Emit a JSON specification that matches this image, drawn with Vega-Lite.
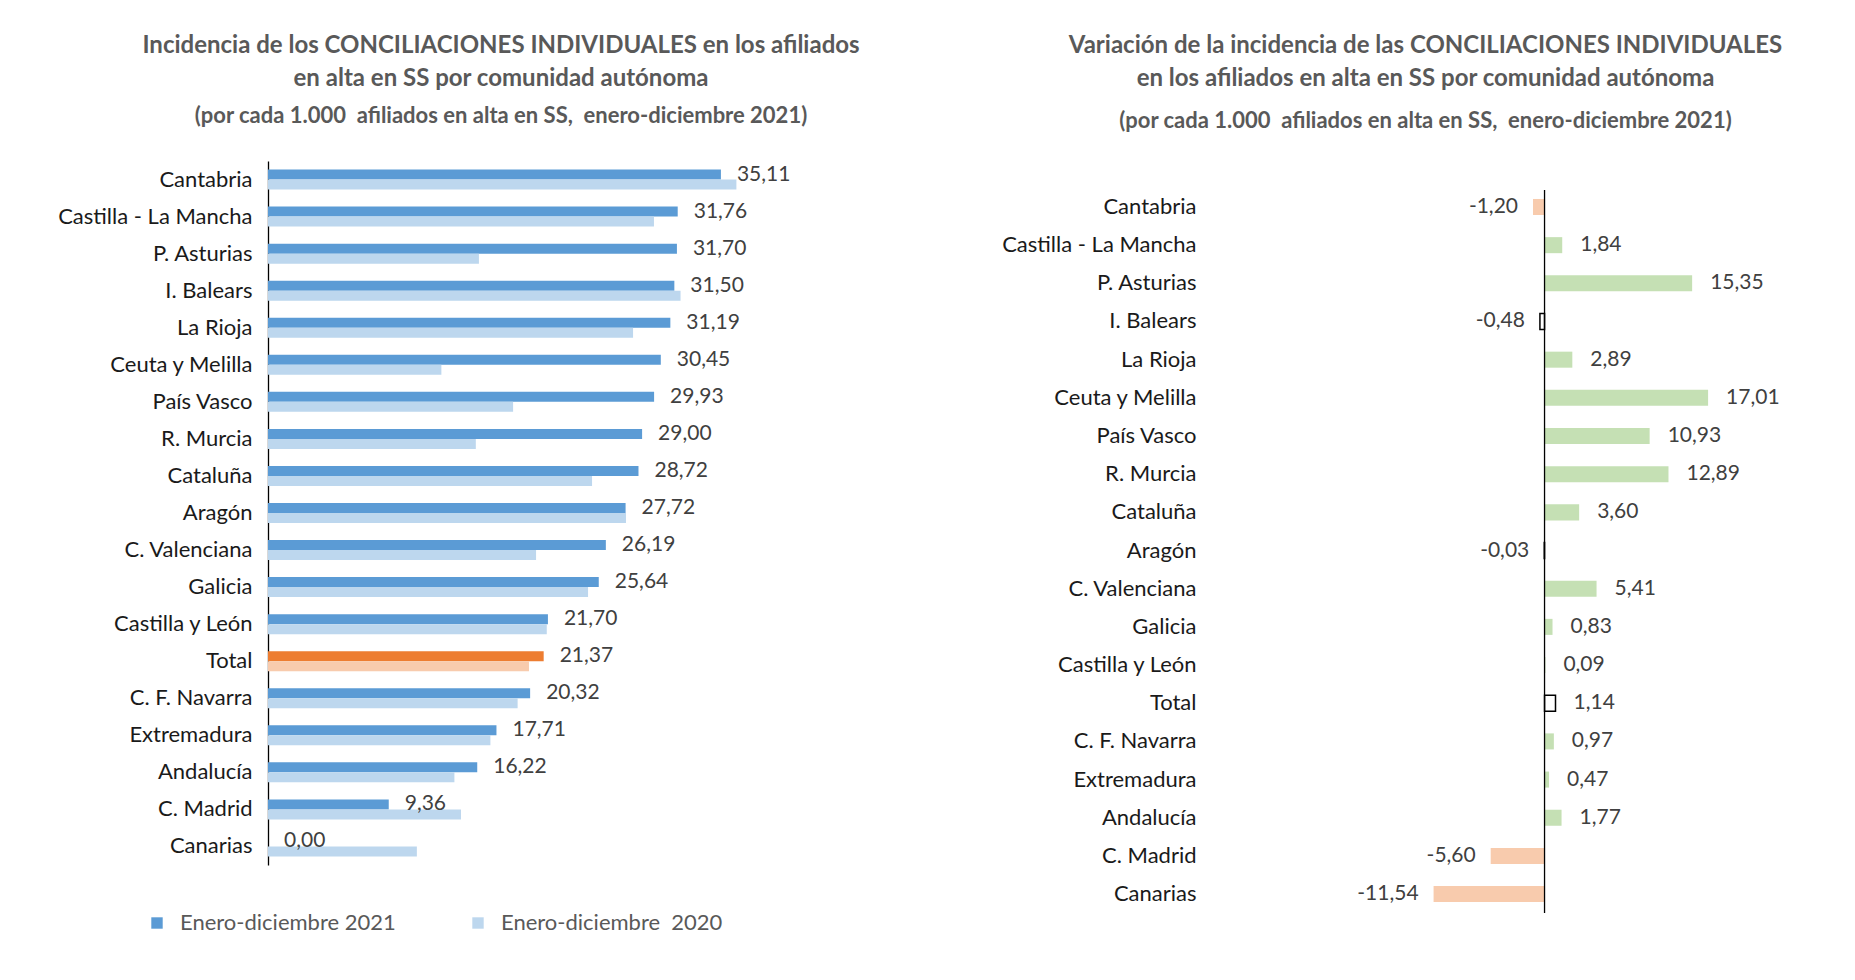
{
  "$schema": "https://vega.github.io/schema/vega-lite/v6.json",
  "background": "white",
  "padding": {"left": 57, "top": 34, "right": 10, "bottom": 10},
  "spacing": 141,
  "config": {
    "font": "Lato",
    "view": {"stroke": null},
    "locale": {"number": {"decimal": ",", "thousands": ".", "grouping": [3], "currency": ["", " €"], "minus": "-"}},
    "title": {"font": "Lato", "fontSize": 24, "fontWeight": "bold", "color": "#595959", "lineHeight": 33, "subtitleFont": "Lato", "subtitleFontSize": 22, "subtitleFontWeight": "bold", "subtitleColor": "#595959", "anchor": "middle"},
    "axis": {"labelFont": "Lato", "labelFontSize": 22, "labelColor": "#1a1a1a", "labelLimit": 0, "ticks": false, "tickSize": 0, "title": null, "grid": false}
  },
  "datasets": {
    "izq": [
      {"region": "Cantabria", "periodo": "2021", "serie": "Enero-diciembre 2021", "valor": 35.11},
      {"region": "Cantabria", "periodo": "2020", "serie": "Enero-diciembre\u00a0 2020", "valor": 36.31},
      {"region": "Castilla - La Mancha", "periodo": "2021", "serie": "Enero-diciembre 2021", "valor": 31.76},
      {"region": "Castilla - La Mancha", "periodo": "2020", "serie": "Enero-diciembre\u00a0 2020", "valor": 29.92},
      {"region": "P. Asturias", "periodo": "2021", "serie": "Enero-diciembre 2021", "valor": 31.70},
      {"region": "P. Asturias", "periodo": "2020", "serie": "Enero-diciembre\u00a0 2020", "valor": 16.35},
      {"region": "I. Balears", "periodo": "2021", "serie": "Enero-diciembre 2021", "valor": 31.50},
      {"region": "I. Balears", "periodo": "2020", "serie": "Enero-diciembre\u00a0 2020", "valor": 31.98},
      {"region": "La Rioja", "periodo": "2021", "serie": "Enero-diciembre 2021", "valor": 31.19},
      {"region": "La Rioja", "periodo": "2020", "serie": "Enero-diciembre\u00a0 2020", "valor": 28.30},
      {"region": "Ceuta y Melilla", "periodo": "2021", "serie": "Enero-diciembre 2021", "valor": 30.45},
      {"region": "Ceuta y Melilla", "periodo": "2020", "serie": "Enero-diciembre\u00a0 2020", "valor": 13.44},
      {"region": "País Vasco", "periodo": "2021", "serie": "Enero-diciembre 2021", "valor": 29.93},
      {"region": "País Vasco", "periodo": "2020", "serie": "Enero-diciembre\u00a0 2020", "valor": 19.00},
      {"region": "R. Murcia", "periodo": "2021", "serie": "Enero-diciembre 2021", "valor": 29.00},
      {"region": "R. Murcia", "periodo": "2020", "serie": "Enero-diciembre\u00a0 2020", "valor": 16.11},
      {"region": "Cataluña", "periodo": "2021", "serie": "Enero-diciembre 2021", "valor": 28.72},
      {"region": "Cataluña", "periodo": "2020", "serie": "Enero-diciembre\u00a0 2020", "valor": 25.12},
      {"region": "Aragón", "periodo": "2021", "serie": "Enero-diciembre 2021", "valor": 27.72},
      {"region": "Aragón", "periodo": "2020", "serie": "Enero-diciembre\u00a0 2020", "valor": 27.75},
      {"region": "C. Valenciana", "periodo": "2021", "serie": "Enero-diciembre 2021", "valor": 26.19},
      {"region": "C. Valenciana", "periodo": "2020", "serie": "Enero-diciembre\u00a0 2020", "valor": 20.78},
      {"region": "Galicia", "periodo": "2021", "serie": "Enero-diciembre 2021", "valor": 25.64},
      {"region": "Galicia", "periodo": "2020", "serie": "Enero-diciembre\u00a0 2020", "valor": 24.81},
      {"region": "Castilla y León", "periodo": "2021", "serie": "Enero-diciembre 2021", "valor": 21.70},
      {"region": "Castilla y León", "periodo": "2020", "serie": "Enero-diciembre\u00a0 2020", "valor": 21.61},
      {"region": "Total", "periodo": "2021", "serie": "Total 2021", "valor": 21.37},
      {"region": "Total", "periodo": "2020", "serie": "Total 2020", "valor": 20.23},
      {"region": "C. F. Navarra", "periodo": "2021", "serie": "Enero-diciembre 2021", "valor": 20.32},
      {"region": "C. F. Navarra", "periodo": "2020", "serie": "Enero-diciembre\u00a0 2020", "valor": 19.35},
      {"region": "Extremadura", "periodo": "2021", "serie": "Enero-diciembre 2021", "valor": 17.71},
      {"region": "Extremadura", "periodo": "2020", "serie": "Enero-diciembre\u00a0 2020", "valor": 17.24},
      {"region": "Andalucía", "periodo": "2021", "serie": "Enero-diciembre 2021", "valor": 16.22},
      {"region": "Andalucía", "periodo": "2020", "serie": "Enero-diciembre\u00a0 2020", "valor": 14.45},
      {"region": "C. Madrid", "periodo": "2021", "serie": "Enero-diciembre 2021", "valor": 9.36},
      {"region": "C. Madrid", "periodo": "2020", "serie": "Enero-diciembre\u00a0 2020", "valor": 14.96},
      {"region": "Canarias", "periodo": "2021", "serie": "Enero-diciembre 2021", "valor": 0.00},
      {"region": "Canarias", "periodo": "2020", "serie": "Enero-diciembre\u00a0 2020", "valor": 11.54}
    ],
    "der": [
      {"region": "Cantabria", "variacion": -1.20, "tipo": "negativo"},
      {"region": "Castilla - La Mancha", "variacion": 1.84, "tipo": "positivo"},
      {"region": "P. Asturias", "variacion": 15.35, "tipo": "positivo"},
      {"region": "I. Balears", "variacion": -0.48, "tipo": "marco"},
      {"region": "La Rioja", "variacion": 2.89, "tipo": "positivo"},
      {"region": "Ceuta y Melilla", "variacion": 17.01, "tipo": "positivo"},
      {"region": "País Vasco", "variacion": 10.93, "tipo": "positivo"},
      {"region": "R. Murcia", "variacion": 12.89, "tipo": "positivo"},
      {"region": "Cataluña", "variacion": 3.60, "tipo": "positivo"},
      {"region": "Aragón", "variacion": -0.03, "tipo": "marco"},
      {"region": "C. Valenciana", "variacion": 5.41, "tipo": "positivo"},
      {"region": "Galicia", "variacion": 0.83, "tipo": "positivo"},
      {"region": "Castilla y León", "variacion": 0.09, "tipo": "positivo"},
      {"region": "Total", "variacion": 1.14, "tipo": "marco"},
      {"region": "C. F. Navarra", "variacion": 0.97, "tipo": "positivo"},
      {"region": "Extremadura", "variacion": 0.47, "tipo": "positivo"},
      {"region": "Andalucía", "variacion": 1.77, "tipo": "positivo"},
      {"region": "C. Madrid", "variacion": -5.60, "tipo": "negativo"},
      {"region": "Canarias", "variacion": -11.54, "tipo": "negativo"}
    ],
    "eje": [{"cero": 0, "ini": 0, "fin": 1}]
  },
  "hconcat": [
    {
      "width": 516,
      "height": 704,
      "data": {"name": "izq"},
      "title": {
        "text": ["Incidencia de los CONCILIACIONES INDIVIDUALES en los afiliados", "en alta en SS por comunidad autónoma"],
        "subtitle": "(por cada 1.000\u00a0 afiliados en alta en SS,\u00a0 enero-diciembre 2021)",
        "dx": -25,
        "offset": 34,
        "subtitlePadding": 15
      },
      "encoding": {
        "y": {"field": "region", "type": "nominal",
          "sort": ["Cantabria", "Castilla - La Mancha", "P. Asturias", "I. Balears", "La Rioja", "Ceuta y Melilla", "País Vasco", "R. Murcia", "Cataluña", "Aragón", "C. Valenciana", "Galicia", "Castilla y León", "Total", "C. F. Navarra", "Extremadura", "Andalucía", "C. Madrid", "Canarias"],
          "scale": {"paddingInner": 0.46, "paddingOuter": 0.23},
          "axis": {"domain": true, "domainColor": "#000000", "domainWidth": 1.3, "labelPadding": 16}},
        "yOffset": {"field": "periodo", "type": "nominal", "sort": ["2021", "2020"], "scale": {"paddingInner": 0, "paddingOuter": 0}},
        "x": {"field": "valor", "type": "quantitative", "scale": {"domain": [0, 40], "nice": false}, "axis": null}
      },
      "layer": [
        {
          "mark": {"type": "bar"},
          "encoding": {
            "color": {"field": "serie", "type": "nominal",
              "scale": {"domain": ["Enero-diciembre 2021", "Enero-diciembre\u00a0 2020", "Total 2021", "Total 2020"], "range": ["#5b9bd5", "#bdd7ee", "#ed7d31", "#f8cbad"]},
              "legend": {"title": null, "orient": "none", "legendX": -122, "legendY": 751, "direction": "horizontal", "padding": 0,
                "values": ["Enero-diciembre 2021", "Enero-diciembre\u00a0 2020"], "symbolType": "square", "symbolSize": 130, "symbolStrokeWidth": 0,
                "labelFont": "Lato", "labelFontSize": 22, "labelColor": "#595959", "labelOffset": 12, "columnPadding": 71, "labelLimit": 0}}
          }
        },
        {
          "transform": [{"filter": "datum.periodo === '2021'"}],
          "mark": {"type": "text", "align": "left", "baseline": "middle", "dx": 16, "fontSize": 21, "color": "#404040", "font": "Lato"},
          "encoding": {
            "text": {"field": "valor", "type": "quantitative", "format": ".2f"}
          }
        }
      ]
    },
    {
      "width": 625,
      "height": 752,
      "title": {
        "text": ["Variación de la incidencia de las CONCILIACIONES INDIVIDUALES", "en los afiliados en alta en SS por comunidad autónoma"],
        "subtitle": "(por cada 1.000\u00a0 afiliados en alta en SS,\u00a0 enero-diciembre 2021)",
        "dx": -95,
        "offset": 29,
        "subtitlePadding": 20
      },
      "resolve": {"scale": {"y": "independent"}},
      "layer": [
        {
          "data": {"name": "der"},
          "encoding": {
            "y": {"field": "region", "type": "nominal",
              "sort": ["Cantabria", "Castilla - La Mancha", "P. Asturias", "I. Balears", "La Rioja", "Ceuta y Melilla", "País Vasco", "R. Murcia", "Cataluña", "Aragón", "C. Valenciana", "Galicia", "Castilla y León", "Total", "C. F. Navarra", "Extremadura", "Andalucía", "C. Madrid", "Canarias"],
              "scale": {"paddingInner": 0.58, "paddingOuter": 0.64, "align": 0.777},
              "axis": {"domain": false, "labelPadding": 12}},
            "x": {"field": "variacion", "type": "quantitative", "scale": {"domain": [-35, 30], "nice": false}, "axis": null}
          },
          "layer": [
            {
              "mark": {"type": "bar", "strokeWidth": 1.5},
              "encoding": {
                "fill": {"field": "tipo", "type": "nominal", "scale": {"domain": ["positivo", "negativo", "marco"], "range": ["#c5e0b4", "#f8cbad", "#ffffff"]}, "legend": null},
                "stroke": {"condition": {"test": "datum.tipo === 'marco'", "value": "#000000"}, "value": "transparent"}
              }
            },
            {
              "transform": [{"filter": "datum.variacion >= 0"}],
              "mark": {"type": "text", "align": "left", "baseline": "middle", "dx": 18, "fontSize": 21, "color": "#404040", "font": "Lato"},
              "encoding": {"text": {"field": "variacion", "type": "quantitative", "format": ".2f"}}
            },
            {
              "transform": [{"filter": "datum.variacion < 0"}],
              "mark": {"type": "text", "align": "right", "baseline": "middle", "dx": -15, "fontSize": 21, "color": "#404040", "font": "Lato"},
              "encoding": {"text": {"field": "variacion", "type": "quantitative", "format": ".2f"}}
            }
          ]
        },
        {
          "data": {"name": "eje"},
          "mark": {"type": "rule", "color": "#000000", "strokeWidth": 1.3},
          "encoding": {
            "x": {"field": "cero", "type": "quantitative"},
            "y": {"field": "ini", "type": "quantitative", "scale": {"domain": [0, 1.04], "nice": false, "zero": false}, "axis": null},
            "y2": {"field": "fin"}
          }
        }
      ]
    }
  ]
}
